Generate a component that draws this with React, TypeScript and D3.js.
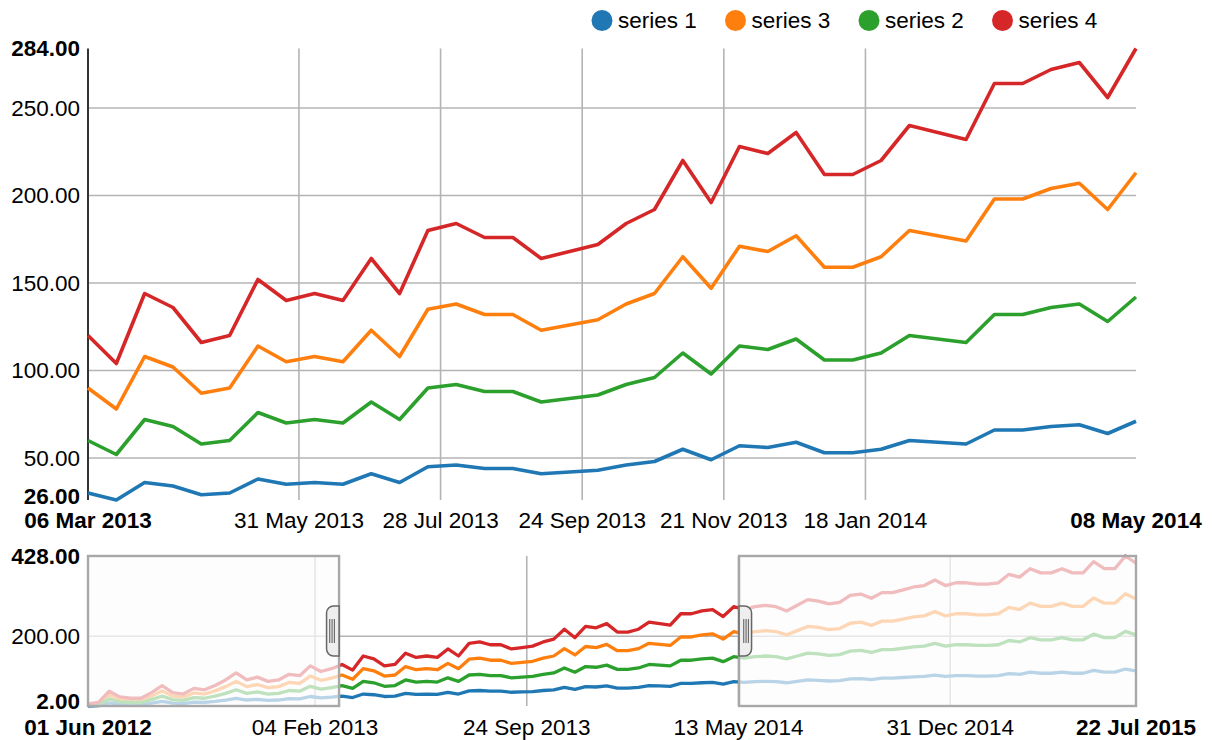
import React from "react";
import * as d3 from "d3";

// ---- data ----
const START_DATE = "2012-06-01T12:00:00Z";
const STEP_MS = 1e9; // spacing between samples
const TZ_OFFSET_HOURS = 2; // the reference shows dates in a UTC+2 zone

const SERIES_NAMES = ["series 1", "series 3", "series 2", "series 4"];
const SERIES_COLORS = ["#1f77b4", "#ff7f0e", "#2ca02c", "#d62728"];

const SERIES_1 = [
  2, 3, 11, 7, 6, 6, 10, 15, 10, 9,
  13, 12, 15, 19, 24, 19, 21, 18, 19, 23,
  22, 29, 25, 27, 30, 26, 36, 34, 29, 30,
  38, 35, 36, 35, 41, 36, 45, 46, 44, 44,
  41, 42, 43, 46, 48, 55, 49, 57, 56, 59,
  53, 53, 55, 60, 59, 58, 66, 66, 68, 69,
  64, 71, 69, 71, 72, 71, 68, 72, 76, 75,
  73, 74, 79, 80, 77, 81, 81, 83, 85, 86,
  90, 86, 88, 88, 87, 87, 88, 94, 92, 98,
  95, 95, 98, 95, 95, 103, 98, 98, 107, 102,
];
const SERIES_3 = [
  6, 9, 33, 21, 18, 18, 30, 45, 30, 27,
  39, 36, 45, 57, 72, 57, 63, 54, 57, 69,
  66, 87, 75, 81, 90, 78, 108, 102, 87, 90,
  114, 105, 108, 105, 123, 108, 135, 138, 132, 132,
  123, 126, 129, 138, 144, 165, 147, 171, 168, 177,
  159, 159, 165, 180, 177, 174, 198, 198, 204, 207,
  192, 213, 207, 213, 216, 213, 204, 216, 228, 225,
  219, 222, 237, 240, 231, 243, 243, 249, 255, 258,
  270, 258, 264, 264, 261, 261, 264, 282, 276, 294,
  285, 285, 294, 285, 285, 309, 294, 294, 321, 306,
];
const SERIES_2 = [
  4, 6, 22, 14, 12, 12, 20, 30, 20, 18,
  26, 24, 30, 38, 48, 38, 42, 36, 38, 46,
  44, 58, 50, 54, 60, 52, 72, 68, 58, 60,
  76, 70, 72, 70, 82, 72, 90, 92, 88, 88,
  82, 84, 86, 92, 96, 110, 98, 114, 112, 118,
  106, 106, 110, 120, 118, 116, 132, 132, 136, 138,
  128, 142, 138, 142, 144, 142, 136, 144, 152, 150,
  146, 148, 158, 160, 154, 162, 162, 166, 170, 172,
  180, 172, 176, 176, 174, 174, 176, 188, 184, 196,
  190, 190, 196, 190, 190, 206, 196, 196, 214, 204,
];
const SERIES_4 = [
  8, 12, 44, 28, 24, 24, 40, 60, 40, 36,
  52, 48, 60, 76, 96, 76, 84, 72, 76, 92,
  88, 116, 100, 108, 120, 104, 144, 136, 116, 120,
  152, 140, 144, 140, 164, 144, 180, 184, 176, 176,
  164, 168, 172, 184, 192, 220, 196, 228, 224, 236,
  212, 212, 220, 240, 236, 232, 264, 264, 272, 276,
  256, 284, 276, 284, 288, 284, 272, 288, 304, 300,
  292, 296, 316, 320, 308, 324, 324, 332, 340, 344,
  360, 344, 352, 352, 348, 348, 352, 376, 368, 392,
  380, 380, 392, 380, 380, 412, 392, 392, 428, 408,
];

const BRUSH_EXTENT = ["2013-03-03T00:00:00Z", "2014-05-14T08:00:00Z"];

// ---- chart ----
const FONT = "'Liberation Sans', Arial, Helvetica, sans-serif";
const FS = 22.5;
const utcFmt = d3.utcFormat("%d %b %Y");
const fmtDate = (ms: number) => utcFmt(new Date(ms + TZ_OFFSET_HOURS * 3600e3));
const fmtNum = d3.format(",.2f");

export default function App() {
  const W = 1212;
  const H = 740;
  const L = 88;
  const R = 1136;
  const mTop = 48.5;
  const mBot = 500;
  const cTop = 556;
  const cBot = 706;

  const t0 = Date.parse(START_DATE);
  const series = [SERIES_1, SERIES_3, SERIES_2, SERIES_4];
  const dates = SERIES_1.map((_, i) => t0 + i * STEP_MS);

  const b0 = Date.parse(BRUSH_EXTENT[0]);
  const b1 = Date.parse(BRUSH_EXTENT[1]);
  const inIdx = dates.map((_, i) => i).filter((i) => dates[i] >= b0 && dates[i] <= b1);

  const xMain = d3
    .scaleLinear()
    .domain(d3.extent(inIdx.map((i) => dates[i])) as [number, number])
    .range([L, R]);
  const mainVals = series.flatMap((s) => inIdx.map((i) => s[i]));
  const yMain = d3
    .scaleLinear()
    .domain(d3.extent(mainVals) as [number, number])
    .range([mBot, mTop]);

  const xCtx = d3.scaleLinear().domain(d3.extent(dates) as [number, number]).range([L, R]);
  const yCtx = d3
    .scaleLinear()
    .domain(d3.extent(series.flat()) as [number, number])
    .range([cBot, cTop]);

  const MAXMIN_W = 136;
  const filterX = (scale: d3.ScaleLinear<number, number>, count: number) =>
    scale.ticks(count).filter((t) => {
      const p = scale(t);
      return p >= L + MAXMIN_W + 4 && p <= R - MAXMIN_W - 4;
    });
  const filterY = (scale: d3.ScaleLinear<number, number>, count: number) =>
    scale.ticks(count).filter((t) => {
      const p = scale(t);
      const [r0, r1] = scale.range();
      return p > r1 + 18 && p < r0 - 18;
    });

  const mainXTicks = filterX(xMain, 10);
  const mainYTicks = filterY(yMain, 5);
  const ctxXTicks = filterX(xCtx, 5);
  const ctxYTicks = filterY(yCtx, 2);

  const mainLine = (s: number[]) =>
    d3
      .line<number>()
      .x((i) => xMain(dates[i]))
      .y((i) => yMain(s[i]))(inIdx) || "";
  const ctxLine = (s: number[]) =>
    d3
      .line<number>()
      .x((_, i) => xCtx(dates[i]))
      .y((v) => yCtx(v))(s) || "";

  const gridColor = "#b4b4b4";
  const brushL = xCtx(b0);
  const brushR = xCtx(b1);

  const handle = (x0: number, dir: number) => {
    const w = 12.5;
    const r = 7;
    const y1 = cTop + (cBot - cTop) / 3;
    const y2 = cTop + (2 * (cBot - cTop)) / 3;
    const sweep = dir > 0 ? 1 : 0;
    const path =
      `M${x0},${y1} H${x0 + dir * (w - r)} A${r},${r} 0 0 ${sweep} ${x0 + dir * w},${y1 + r}` +
      ` V${y2 - r} A${r},${r} 0 0 ${sweep} ${x0 + dir * (w - r)},${y2} H${x0} Z`;
    return (
      <g>
        <path d={path} fill="#eeeeee" stroke="#666" strokeWidth={1.5} />
        {[4.7, 7, 9.3].map((o) => (
          <line
            key={o}
            x1={x0 + dir * o}
            x2={x0 + dir * o}
            y1={y1 + 13}
            y2={y2 - 13}
            stroke="#555"
            strokeWidth={1}
          />
        ))}
      </g>
    );
  };

  const legendX0 = 602;
  const legendStep = 133.5;
  const mainXLabelY = 528;
  const ctxXLabelY = 735;

  return (
    <svg
      width={W}
      height={H}
      style={{ position: "absolute", left: 0, top: 0, fontFamily: FONT, fontSize: FS }}
    >
      <rect x={0} y={0} width={W} height={H} fill="#fff" />

      {/* legend */}
      {SERIES_NAMES.map((name, k) => {
        const cx = legendX0 + k * legendStep;
        return (
          <g key={name}>
            <circle cx={cx} cy={20.5} r={10.5} fill={SERIES_COLORS[k]} />
            <text x={cx + 16} y={20.5} dy="0.34em" fill="#000">
              {name}
            </text>
          </g>
        );
      })}

      {/* ===== main (focus) chart ===== */}
      {mainXTicks.map((t) => (
        <g key={"mx" + t}>
          <line x1={xMain(t)} x2={xMain(t)} y1={mTop} y2={mBot} stroke={gridColor} strokeWidth={1.6} />
          <text x={xMain(t)} y={mainXLabelY} textAnchor="middle" fill="#000">
            {fmtDate(t)}
          </text>
        </g>
      ))}
      {mainYTicks.map((t) => (
        <g key={"my" + t}>
          <line x1={L} x2={R} y1={yMain(t)} y2={yMain(t)} stroke={gridColor} strokeWidth={1.6} />
          <text x={80} y={yMain(t)} dy="0.34em" textAnchor="end" fill="#000">
            {fmtNum(t)}
          </text>
        </g>
      ))}
      {/* max / min labels */}
      {yMain.domain().map((v, k) => (
        <text
          key={"mym" + k}
          x={80}
          y={yMain(v) - (k === 0 ? 4 : 0)}
          dy="0.34em"
          textAnchor="end"
          fontWeight="bold"
          fill="#000"
        >
          {fmtNum(v)}
        </text>
      ))}
      {xMain.domain().map((v, k) => (
        <text
          key={"mxm" + k}
          x={xMain(v)}
          y={mainXLabelY}
          textAnchor="middle"
          fontWeight="bold"
          fill="#000"
        >
          {fmtDate(v)}
        </text>
      ))}
      <line x1={L} x2={L} y1={mTop} y2={mBot} stroke="#333" strokeWidth={2} />

      {series.map((s, k) => (
        <path
          key={"ml" + k}
          d={mainLine(s)}
          fill="none"
          stroke={SERIES_COLORS[k]}
          strokeWidth={3.6}
          strokeLinejoin="round"
        />
      ))}

      {/* ===== context chart ===== */}
      {ctxXTicks.map((t) => (
        <g key={"cx" + t}>
          <line x1={xCtx(t)} x2={xCtx(t)} y1={cTop} y2={cBot} stroke={gridColor} strokeWidth={1.6} />
          <text x={xCtx(t)} y={ctxXLabelY} textAnchor="middle" fill="#000">
            {fmtDate(t)}
          </text>
        </g>
      ))}
      {ctxYTicks.map((t) => (
        <g key={"cy" + t}>
          <line x1={L} x2={R} y1={yCtx(t)} y2={yCtx(t)} stroke={gridColor} strokeWidth={1.6} />
          <text x={80} y={yCtx(t)} dy="0.34em" textAnchor="end" fill="#000">
            {fmtNum(t)}
          </text>
        </g>
      ))}
      {yCtx.domain().map((v, k) => (
        <text
          key={"cym" + k}
          x={80}
          y={yCtx(v) - (k === 0 ? 5 : 0)}
          dy="0.34em"
          textAnchor="end"
          fontWeight="bold"
          fill="#000"
        >
          {fmtNum(v)}
        </text>
      ))}
      {xCtx.domain().map((v, k) => (
        <text
          key={"cxm" + k}
          x={xCtx(v)}
          y={ctxXLabelY}
          textAnchor="middle"
          fontWeight="bold"
          fill="#000"
        >
          {fmtDate(v)}
        </text>
      ))}
      <line x1={L} x2={L} y1={cTop} y2={cBot} stroke="#333" strokeWidth={2} />

      {series.map((s, k) => (
        <path
          key={"cl" + k}
          d={ctxLine(s)}
          fill="none"
          stroke={SERIES_COLORS[k]}
          strokeWidth={3.3}
          strokeLinejoin="round"
        />
      ))}

      {/* brush background (unselected areas) */}
      <rect
        x={L}
        y={cTop}
        width={brushL - L}
        height={cBot - cTop}
        fill="#fcfcfc"
        fillOpacity={0.7}
        stroke="#a8a8a8"
        strokeWidth={2.4}
      />
      <rect
        x={brushR}
        y={cTop}
        width={R - brushR}
        height={cBot - cTop}
        fill="#fcfcfc"
        fillOpacity={0.7}
        stroke="#a8a8a8"
        strokeWidth={2.4}
      />
      {handle(brushL, -1)}
      {handle(brushR, 1)}
    </svg>
  );
}
